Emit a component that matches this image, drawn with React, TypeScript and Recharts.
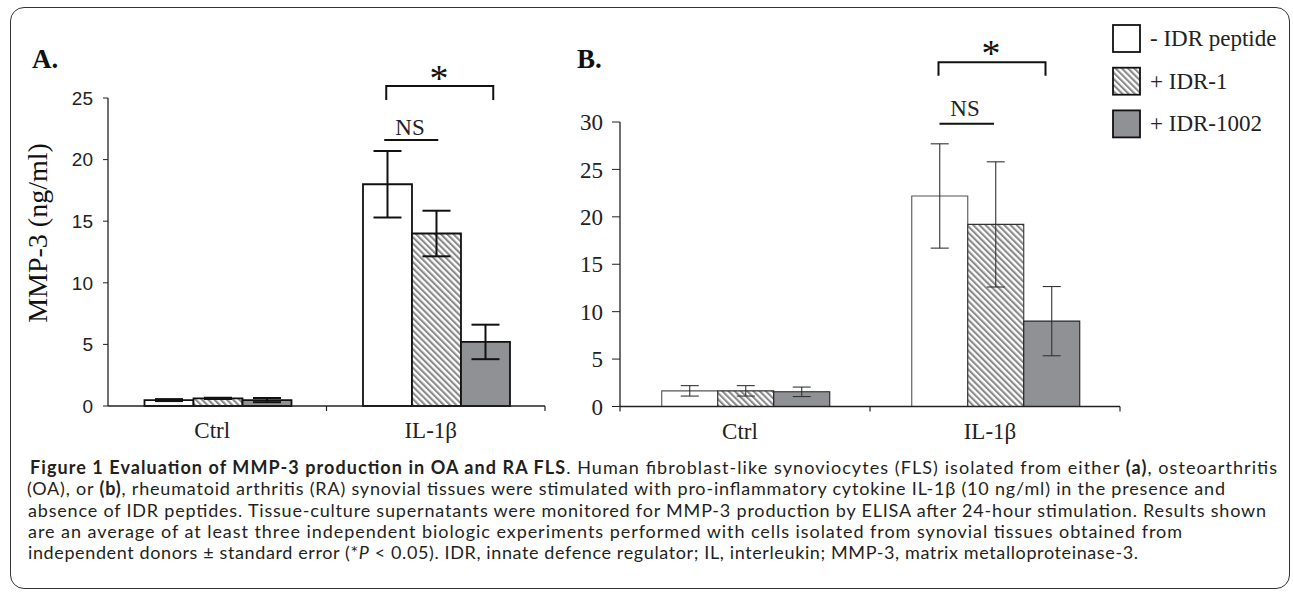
import React from "react";
import { BarChart, Bar, XAxis, YAxis, ErrorBar, Legend } from "recharts";

const categories = ["Ctrl", "IL-1β"];
const seriesNames = ["- IDR peptide", "+ IDR-1", "+ IDR-1002"];

// A. OA FLS, MMP-3 ng/ml
const oaNoPeptide = [0.48, 18.0];
const oaIdr1 = [0.62, 14.0];
const oaIdr1002 = [0.48, 5.2];
const oaNoPeptideErr = [0.08, 2.7];
const oaIdr1Err = [0.05, 1.85];
const oaIdr1002Err = [0.17, 1.4];
const oaTicks = [0, 5, 10, 15, 20, 25];

// B. RA FLS, MMP-3 ng/ml
const raNoPeptide = [1.65, 22.2];
const raIdr1 = [1.65, 19.2];
const raIdr1002 = [1.55, 9.0];
const raNoPeptideErr = [0.55, 5.5];
const raIdr1Err = [0.55, 6.6];
const raIdr1002Err = [0.5, 3.65];
const raTicks = [0, 5, 10, 15, 20, 25, 30];

const buildRows = (a: number[], b: number[], c: number[], ea: number[], eb: number[], ec: number[]) =>
  categories.map((cat, i) => ({
    cat,
    none: a[i],
    idr1: b[i],
    idr1002: c[i],
    noneErr: ea[i],
    idr1Err: eb[i],
    idr1002Err: ec[i],
  }));

const oaData = buildRows(oaNoPeptide, oaIdr1, oaIdr1002, oaNoPeptideErr, oaIdr1Err, oaIdr1002Err);
const raData = buildRows(raNoPeptide, raIdr1, raIdr1002, raNoPeptideErr, raIdr1Err, raIdr1002Err);

const SERIF = "'Liberation Serif', 'Times New Roman', serif";
const SANS = "'Liberation Sans', Arial, sans-serif";
const CAPTION = "Lato, 'Open Sans', sans-serif";
const GRAY = "#8f9195";
const GAP = 0.167;

// plot boxes in page pixels
const A = { left: 108, width: 437, top: 98, bottom: 406 };
const B = { left: 620, width: 500, top: 122, bottom: 406.5 };

const barGeo = (p: { left: number; width: number }) => {
  const catW = p.width / categories.length;
  const barW = (catW * (1 - 2 * GAP)) / seriesNames.length;
  const il = p.left + catW * 1.5;
  return { catW, barW, white: il - barW, hatch: il, gray: il + barW };
};

const Hatch = ({ id }: { id: string }) => (
  <pattern id={id} width="4.4" height="4.4" patternUnits="userSpaceOnUse" patternTransform="rotate(-45)">
    <rect width="4.4" height="4.4" fill="#ffffff" />
    <rect width="2.1" height="4.4" fill="#8a8a8a" />
  </pattern>
);

const CatTick = (props: any) => {
  const { x, y, payload } = props;
  return (
    <text x={x - 5} y={y} dy="0.71em" textAnchor="middle" fontFamily={SERIF} fontSize={23} fill="#222">
      {payload.value}
    </text>
  );
};

const LegendBox = () => (
  <svg width={185} height={150} style={{ display: "block" }}>
    <defs>
      <Hatch id="hatchL" />
    </defs>
    {seriesNames.map((name, i) => (
      <g key={name}>
        <rect
          x={5}
          y={25 + i * 42.7}
          width={27}
          height={27}
          fill={i === 0 ? "#fff" : i === 1 ? "url(#hatchL)" : GRAY}
          stroke="#111"
          strokeWidth={1.8}
        />
        <text x={42} y={38.5 + i * 42.7} dominantBaseline="central" fontFamily={SERIF} fontSize={23} fill="#222">
          {name}
        </text>
      </g>
    ))}
  </svg>
);

const Bracket = ({ x1, x2, y, leg }: { x1: number; x2: number; y: number; leg: number }) => (
  <path d={`M${x1},${y + leg} V${y} H${x2} V${y + leg}`} fill="none" stroke="#111" strokeWidth={2} />
);

// caption lines: [start x, end x]
const captionSpans = [
  [30, 1277],
  [27, 1225],
  [28, 1266],
  [28, 1182],
  [28, 1138],
];

const CaptionLine = ({ i, children }: { i: number; children: React.ReactNode }) => (
  <text
    x={captionSpans[i][0]}
    y={474 + i * 21.3}
    textLength={captionSpans[i][1] - captionSpans[i][0]}
    lengthAdjust="spacing"
    fontFamily={CAPTION}
    fontSize={18}
    fill="#231f20"
  >
    {children}
  </text>
);

export default function App() {
  const ga = barGeo(A);
  const gb = barGeo(B);
  return (
    <div style={{ position: "absolute", left: 0, top: 0, width: 1293, height: 593, background: "#fff" }}>
      <div
        style={{
          position: "absolute",
          left: 10,
          top: 7,
          width: 1280,
          height: 582,
          boxSizing: "border-box",
          border: "1.5px solid #333",
          borderRadius: 14,
        }}
      />

      <div style={{ position: "absolute", left: 0, top: 0 }}>
        <BarChart
          width={560}
          height={460}
          data={oaData}
          margin={{ top: A.top, right: 560 - A.left - A.width, bottom: 14, left: 0 }}
          barCategoryGap="16.7%"
          barGap={0}
        >
          <defs>
            <Hatch id="hatchA" />
          </defs>
          <XAxis
            dataKey="cat"
            height={40}
            interval={0}
            tickLine={false}
            tickSize={0}
            tickMargin={16}
            axisLine={{ stroke: "#222", strokeWidth: 1.3 }}
            tick={<CatTick />}
          />
          <YAxis
            width={A.left}
            domain={[0, 25]}
            ticks={oaTicks}
            interval={0}
            tickSize={5}
            tickMargin={10}
            axisLine={{ stroke: "#222", strokeWidth: 1.3 }}
            tickLine={{ stroke: "#222" }}
            tick={{ fontFamily: SANS, fontSize: 19, fill: "#222" }}
          />
          <Bar dataKey="none" name={seriesNames[0]} fill="#fff" stroke="#111" strokeWidth={1.8} isAnimationActive={false}>
            <ErrorBar dataKey="noneErr" width={14} strokeWidth={2} stroke="#111" />
          </Bar>
          <Bar dataKey="idr1" name={seriesNames[1]} fill="url(#hatchA)" stroke="#111" strokeWidth={1.8} isAnimationActive={false}>
            <ErrorBar dataKey="idr1Err" width={14} strokeWidth={2} stroke="#111" />
          </Bar>
          <Bar dataKey="idr1002" name={seriesNames[2]} fill={GRAY} stroke="#111" strokeWidth={1.8} isAnimationActive={false}>
            <ErrorBar dataKey="idr1002Err" width={14} strokeWidth={2} stroke="#111" />
          </Bar>
        </BarChart>
      </div>

      <div style={{ position: "absolute", left: 560, top: 0 }}>
        <BarChart
          width={733}
          height={460}
          data={raData}
          margin={{ top: B.top, right: 733 - (B.left - 560) - B.width, bottom: 13.5, left: 0 }}
          barCategoryGap="16.7%"
          barGap={0}
        >
          <defs>
            <Hatch id="hatchB" />
          </defs>
          <XAxis
            dataKey="cat"
            height={40}
            interval={0}
            tickLine={false}
            tickSize={0}
            tickMargin={16}
            axisLine={{ stroke: "#222", strokeWidth: 1.3 }}
            tick={<CatTick />}
          />
          <YAxis
            width={B.left - 560}
            domain={[0, 30]}
            ticks={raTicks}
            interval={0}
            tickSize={8}
            tickMargin={9}
            axisLine={{ stroke: "#222", strokeWidth: 1.3 }}
            tickLine={{ stroke: "#222" }}
            tick={{ fontFamily: SERIF, fontSize: 23, fill: "#222" }}
          />
          <Legend
            layout="vertical"
            align="center"
            verticalAlign="middle"
            wrapperStyle={{ left: 548, top: 0, width: 185, height: 150 }}
            content={() => <LegendBox />}
          />
          <Bar dataKey="none" name={seriesNames[0]} fill="#fff" stroke="#555" strokeWidth={1.1} isAnimationActive={false}>
            <ErrorBar dataKey="noneErr" width={9} strokeWidth={1.1} stroke="#333" />
          </Bar>
          <Bar dataKey="idr1" name={seriesNames[1]} fill="url(#hatchB)" stroke="#333" strokeWidth={1.1} isAnimationActive={false}>
            <ErrorBar dataKey="idr1Err" width={9} strokeWidth={1.1} stroke="#333" />
          </Bar>
          <Bar dataKey="idr1002" name={seriesNames[2]} fill={GRAY} stroke="#222" strokeWidth={1.1} isAnimationActive={false}>
            <ErrorBar dataKey="idr1002Err" width={9} strokeWidth={1.1} stroke="#333" />
          </Bar>
        </BarChart>
      </div>

      <svg width={1293} height={593} style={{ position: "absolute", left: 0, top: 0, pointerEvents: "none" }}>
        {/* category boundary ticks */}
        {[1, 2].map((k) => (
          <line key={"a" + k} x1={A.left + ga.catW * k} x2={A.left + ga.catW * k} y1={A.bottom} y2={A.bottom + 5} stroke="#222" strokeWidth={1.2} />
        ))}
        {[0, 1, 2].map((k) => (
          <line key={"b" + k} x1={B.left + gb.catW * k} x2={B.left + gb.catW * k} y1={B.bottom} y2={B.bottom + 5} stroke="#222" strokeWidth={1.2} />
        ))}

        <text x={32} y={68} fontFamily={SERIF} fontWeight="bold" fontSize={27} fill="#111">A.</text>
        <text x={577} y={68} fontFamily={SERIF} fontWeight="bold" fontSize={27} fill="#111">B.</text>

        <text
          x={37.5}
          y={233}
          transform="rotate(-90 37.5 233)"
          textAnchor="middle"
          dominantBaseline="central"
          fontFamily={SERIF}
          fontSize={28}
          fill="#111"
        >
          MMP-3 (ng/ml)
        </text>

        {/* panel A significance marks */}
        <Bracket x1={ga.white - 1} x2={ga.gray + 9} y={86} leg={14} />
        <text x={439} y={91} textAnchor="middle" fontFamily={SERIF} fontSize={38} fill="#111">*</text>
        <text x={410} y={135.3} textAnchor="middle" fontFamily={SERIF} fontSize={23} fill="#222">NS</text>
        <line x1={ga.white - 3} x2={ga.hatch + 2.5} y1={140} y2={140} stroke="#111" strokeWidth={2} />

        {/* panel B significance marks */}
        <Bracket x1={gb.white - 1} x2={gb.gray - 5} y={62.3} leg={13.5} />
        <text x={991} y={66} textAnchor="middle" fontFamily={SERIF} fontSize={38} fill="#111">*</text>
        <text x={965} y={115.7} textAnchor="middle" fontFamily={SERIF} fontSize={23} fill="#222">NS</text>
        <line x1={gb.white} x2={gb.hatch - 1} y1={123.7} y2={123.7} stroke="#111" strokeWidth={2} />

        {/* caption */}
        <CaptionLine i={0}>
          <tspan fontWeight="bold">Figure 1 Evaluation of MMP-3 production in OA and RA FLS</tspan>
          <tspan>. Human fibroblast-like synoviocytes (FLS) isolated from either </tspan>
          <tspan fontWeight="bold">(a)</tspan>
          <tspan>, osteoarthritis</tspan>
        </CaptionLine>
        <CaptionLine i={1}>
          <tspan>(OA), or </tspan>
          <tspan fontWeight="bold">(b)</tspan>
          <tspan>, rheumatoid arthritis (RA) synovial tissues were stimulated with pro-inflammatory cytokine IL-1β (10 ng/ml) in the presence and</tspan>
        </CaptionLine>
        <CaptionLine i={2}>
          absence of IDR peptides. Tissue-culture supernatants were monitored for MMP-3 production by ELISA after 24-hour stimulation. Results shown
        </CaptionLine>
        <CaptionLine i={3}>
          are an average of at least three independent biologic experiments performed with cells isolated from synovial tissues obtained from
        </CaptionLine>
        <CaptionLine i={4}>
          <tspan>independent donors ± standard error (*</tspan>
          <tspan fontStyle="italic">P</tspan>
          <tspan> &lt; 0.05). IDR, innate defence regulator; IL, interleukin; MMP-3, matrix metalloproteinase-3.</tspan>
        </CaptionLine>
      </svg>
    </div>
  );
}
